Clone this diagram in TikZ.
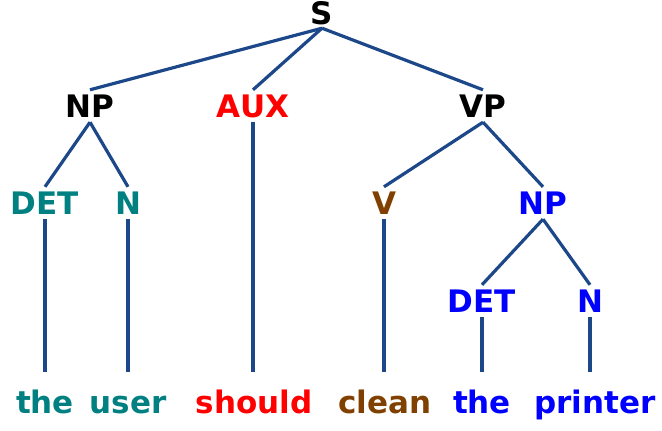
\documentclass[tikz,border=0pt]{standalone}
\usepackage{fontspec}
\setmainfont{DejaVu Sans}
\definecolor{edgeblue}{RGB}{28,72,138}
\definecolor{tealcat}{RGB}{0,128,128}
\definecolor{auxred}{RGB}{255,0,0}
\definecolor{verbbrown}{RGB}{128,64,0}
\definecolor{objblue}{RGB}{0,0,255}
\begin{document}
\begin{tikzpicture}[x=1pt,y=-1pt,
  label/.style={font=\fontsize{31}{36}\selectfont\bfseries, anchor=base,
    inner xsep=0pt, inner ysep=5pt, text height=22pt, text depth=0pt},
  word/.style={label, text height=36pt, text depth=7pt},
  branch/.style={draw=edgeblue, line width=3.2pt}]
\useasboundingbox (0,0) rectangle (662,431);

% phrase and category labels
\node[label, inner ysep=4pt] (s) at (322,24) {S};
\node[label] (np1)  at (90,117)  {NP};
\node[label, text=auxred] (aux) at (253,117) {AUX};
\node[label] (vp)   at (483,117) {VP};
\node[label, text=tealcat] (det1) at (45,214)  {DET};
\node[label, text=tealcat] (n1)   at (128,214) {N};
\node[label, text=verbbrown] (v)  at (384,214) {V};
\node[label, text=objblue] (np2)  at (543,214) {NP};
\node[label, text=objblue] (det2) at (482,312) {DET};
\node[label, text=objblue] (n2)   at (590,312) {N};

% the words of the sentence
\node[word, text=tealcat]   (w1) at (45,413)  {the};
\node[word, text=tealcat]   (w2) at (128,413) {user};
\node[word, text=auxred]    (w3) at (254,413) {should};
\node[word, text=verbbrown] (w4) at (385,413) {clean};
\node[word, text=objblue]   (w5) at (482,413) {the};
\node[word, text=objblue]   (w6) at (595,413) {printer};

% branches
\draw[branch] (s.south) -- (np1.north);
\draw[branch] (s.south) -- (aux.north);
\draw[branch] (s.south) -- (vp.north);
\draw[branch] (np1.south) -- (det1.north);
\draw[branch] (np1.south) -- (n1.north);
\draw[branch] (vp.south) -- (v.north);
\draw[branch] (vp.south) -- (np2.north);
\draw[branch] (np2.south) -- (det2.north);
\draw[branch] (np2.south) -- (n2.north);

% vertical links down to the words
\draw[branch] (det1.south) -- (det1.south |- w1.north);
\draw[branch] (n1.south) -- (n1.south |- w2.north);
\draw[branch] (aux.south) -- (aux.south |- w3.north);
\draw[branch] (v.south) -- (v.south |- w4.north);
\draw[branch] (det2.south) -- (det2.south |- w5.north);
\draw[branch] (n2.south) -- (n2.south |- w6.north);
\end{tikzpicture}
\end{document}
